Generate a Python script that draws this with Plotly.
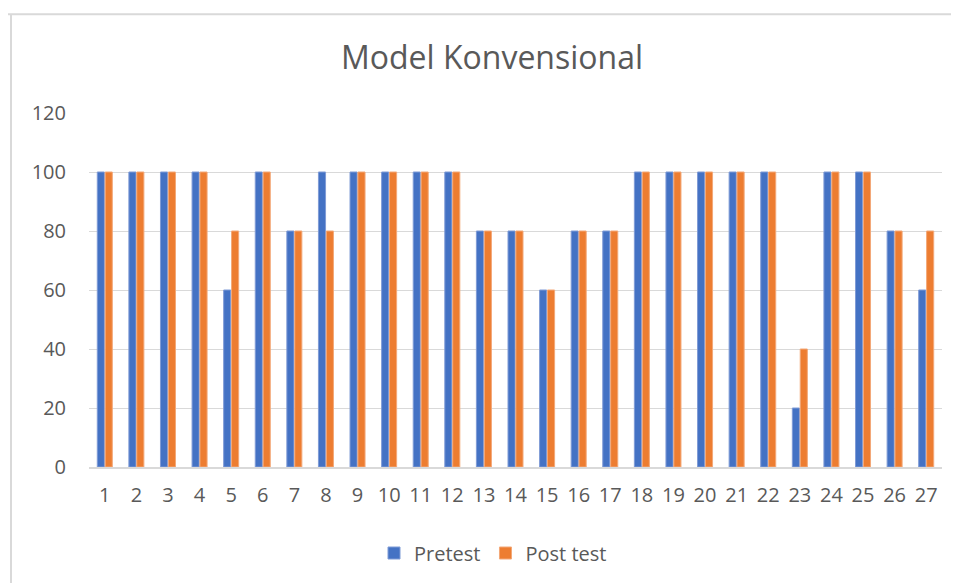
import plotly.graph_objects as go

categories = [str(i) for i in range(1, 28)]
pretest = [100, 100, 100, 100, 60, 100, 80, 100, 100, 100, 100, 100, 80, 80, 60,
           80, 80, 100, 100, 100, 100, 100, 20, 100, 100, 80, 60]
posttest = [100, 100, 100, 100, 80, 100, 80, 80, 100, 100, 100, 100, 80, 80, 60,
            80, 80, 100, 100, 100, 100, 100, 40, 100, 100, 80, 80]
y_ticks = [0, 20, 40, 60, 80, 100, 120]

# page body has an 8px margin; figure coordinates are screen minus 8
W, H = 951, 575
L, R, T, B = 81, 17, 105, 115
pw, ph = W - L - R, H - T - B

font = "Open Sans, Noto Sans, sans-serif"
grey = "#595959"

fig = go.Figure()
fig.add_trace(go.Bar(x=categories, y=pretest, name="Pretest",
                     marker=dict(color="#4472C4", line=dict(color="#7F9BD6", width=1))))
fig.add_trace(go.Bar(x=categories, y=posttest, name="Post test",
                     marker=dict(color="#ED7D31", line=dict(color="#F3A878", width=1))))

fig.update_layout(
    width=W, height=H,
    margin=dict(l=L, r=R, t=T, b=B),
    paper_bgcolor="white", plot_bgcolor="white",
    barmode="group", bargap=0.5, bargroupgap=0.1,
    title=dict(text="Model Konvensional", x=484 / W, xanchor="center",
               y=1 - 50 / H, yanchor="middle",
               font=dict(family=font, size=32, color=grey)),
    font=dict(family=font, size=20, color=grey),
    legend=dict(orientation="h", x=(485 - L) / pw, xanchor="center",
                y=-(545 - (H - B)) / ph, yanchor="middle",
                font=dict(family=font, size=20, color=grey),
                itemwidth=30, traceorder="normal"),
    showlegend=True,
)
fig.update_yaxes(range=[0, 120], tickvals=y_ticks, showgrid=True,
                 gridcolor="#D9D9D9", gridwidth=1, zeroline=False,
                 showline=False, ticks="outside", ticklen=18, tickcolor="rgba(0,0,0,0)",
                 tickfont=dict(family=font, size=20, color=grey))
fig.update_xaxes(showline=True, linecolor="#D9D9D9", linewidth=2,
                 ticks="outside", ticklen=9, tickcolor="rgba(0,0,0,0)",
                 tickfont=dict(family=font, size=20, color=grey))

# chart border (cropped outer frame)
bx0 = (3 - L) / pw
by_top = 1 + (T - 6) / ph
fig.add_shape(type="line", xref="paper", yref="paper", x0=bx0 - 0.01, x1=1.1,
              y0=by_top, y1=by_top, line=dict(color="#D9D9D9", width=2))
fig.add_shape(type="line", xref="paper", yref="paper", x0=bx0, x1=bx0,
              y0=by_top, y1=-0.5, line=dict(color="#D9D9D9", width=2))

fig.write_html("out.html")
